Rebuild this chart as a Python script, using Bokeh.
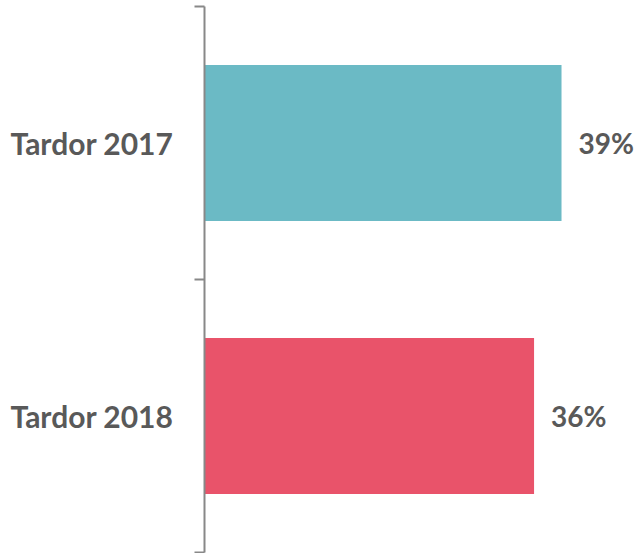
from bokeh.plotting import figure
from bokeh.models import ColumnDataSource, FixedTicker, Range1d
from bokeh.core.properties import value
from bokeh.embed import file_html
from bokeh.resources import INLINE

categories = ["Tardor 2017", "Tardor 2018"]
values = [39, 36]
colors = ["#6BBAC5", "#E9536A"]
labels = ["39%", "36%"]

# positions of category bands (top category at top)
n = len(categories)
ycenters = [n - i - 0.5 for i in range(n)]

src = ColumnDataSource(dict(cat=categories, val=values, y=ycenters, color=colors, lab=labels))

p = figure(width=637, height=553, output_backend="svg", toolbar_location=None,
           x_range=Range1d(0, 47.3), y_range=Range1d(0, n),
           min_border_left=204, min_border_right=0, min_border_top=6, min_border_bottom=1)
p.outline_line_color = None
p.grid.visible = False
p.xaxis.visible = False
p.background_fill_color = "white"
p.border_fill_color = "white"

p.hbar(y="y", left=0, right="val", height=0.571, color="color", line_color=None, source=src)
p.text(x="val", y="y", text="lab", source=src, x_offset=17, text_align="left",
       text_baseline="middle", text_font=value("Lato"), text_font_style="bold",
       text_font_size="28px", text_color="#595959")

ya = p.yaxis[0]
ya.ticker = FixedTicker(ticks=ycenters, minor_ticks=list(range(n + 1)))
ya.major_label_overrides = {yc: c for yc, c in zip(ycenters, categories)}
ya.major_tick_line_color = None
ya.major_tick_out = 0
ya.major_tick_in = 0
ya.minor_tick_out = 10
ya.minor_tick_in = 0
ya.minor_tick_line_color = "#888888"
ya.minor_tick_line_width = 2
ya.axis_line_color = "#888888"
ya.axis_line_width = 2
ya.major_label_text_font = "Lato"
ya.major_label_text_font_style = "bold"
ya.major_label_text_font_size = "30px"
ya.major_label_text_color = "#595959"
ya.major_label_standoff = 21

open("out.html", "w").write(file_html(p, INLINE))
